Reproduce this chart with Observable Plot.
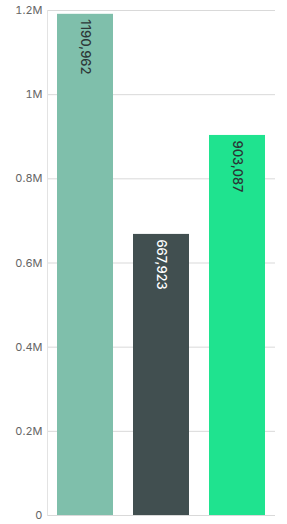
<!DOCTYPE html>
<html>
<head>
<meta charset="utf-8">
<script src="https://cdn.jsdelivr.net/npm/d3@7"></script>
<script src="https://cdn.jsdelivr.net/npm/@observablehq/plot@0.6"></script>
<style>
  html, body { margin: 0; padding: 0; background: #fff; }
  #chart { width: 287px; height: 524px; }
</style>
</head>
<body>
<div id="chart"></div>
<script>
const categories = ["A", "B", "C"];
const values = [1190962, 667923, 903087];
const labels = ["1190,962", "667,923", "903,087"];
const colors = ["#7fbfab", "#414f50", "#1fe38f"];
const textColors = ["#2e3838", "#ffffff", "#2a3535"];
const yTicks = [0, 200000, 400000, 600000, 800000, 1000000, 1200000];
const yTickLabels = ["0", "0.2M", "0.4M", "0.6M", "0.8M", "1M", "1.2M"];

const data = categories.map((c, i) => ({cat: c, value: values[i], label: labels[i], fill: colors[i], text: textColors[i]}));

const chart = Plot.plot({
  width: 287,
  height: 524,
  marginLeft: 47,
  marginRight: 12,
  marginTop: 10,
  marginBottom: 9,
  style: {fontFamily: "Inter, 'Noto Sans', sans-serif", fontSize: "11px", background: "#fff"},
  x: {domain: categories, paddingInner: 0.26, paddingOuter: 0.13, axis: null},
  y: {domain: [0, 1200000], ticks: yTicks, label: null},
  marks: [
    Plot.gridY(yTicks, {stroke: "#d9d9d9", strokeOpacity: 1, strokeWidth: 1}),
    Plot.frame({anchor: "left", stroke: "#e3e3e3"}),
    Plot.axisY({ticks: yTicks, tickFormat: (d) => yTickLabels[yTicks.indexOf(d)], tickSize: 0, tickPadding: 5, fill: "#666", fontSize: 11, label: null}),
    Plot.barY(data, {x: "cat", y: "value", fill: "fill"}),
    Plot.text(data, {x: "cat", y: "value", text: "label", rotate: 90, textAnchor: "start", lineAnchor: "middle", dy: 5, fill: "text", fontSize: 13, fontWeight: 500})
  ]
});
document.getElementById("chart").appendChild(chart);
</script>
</body>
</html>
